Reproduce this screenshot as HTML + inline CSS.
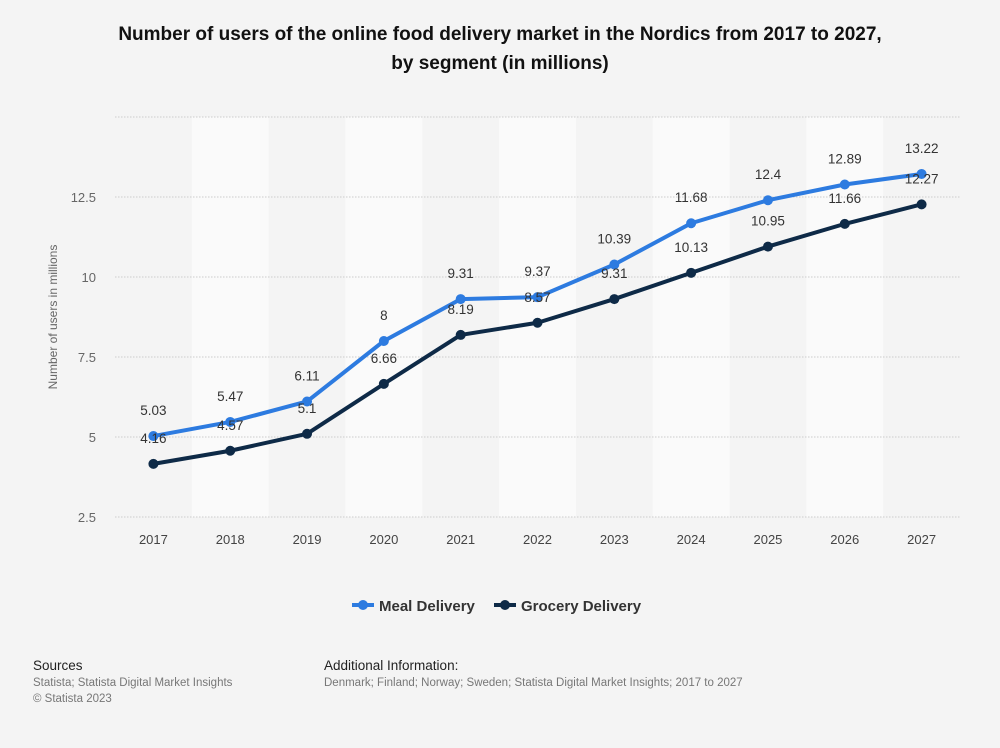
<!DOCTYPE html>
<html><head><meta charset="utf-8"><style>
body{margin:0;background:#f4f4f4;font-family:"Liberation Sans",Arial,sans-serif;}
svg text{font-family:"Liberation Sans",Arial,sans-serif;}
</style></head><body>
<svg width="1000" height="743" xmlns="http://www.w3.org/2000/svg">
<rect width="1000" height="743" fill="#f4f4f4"/>
<text x="500" y="40" text-anchor="middle" font-size="19" font-weight="bold" fill="#111">Number of users of the online food delivery market in the Nordics from 2017 to 2027,</text>
<text x="500" y="69" text-anchor="middle" font-size="19" font-weight="bold" fill="#111">by segment (in millions)</text>
<g id="bands"></g><g id="grid"></g><g id="xt"></g>
<text transform="translate(57,317) rotate(-90)" text-anchor="middle" font-size="12" fill="#666">Number of users in millions</text>
<g id="series"></g>
<g>
<g><line x1="352" y1="605" x2="374" y2="605" stroke="#2d7be0" stroke-width="4"/><circle cx="363" cy="605" r="5" fill="#2d7be0"/><text x="379" y="611" font-size="15" font-weight="bold" fill="#333">Meal Delivery</text></g>
<g><line x1="494" y1="605" x2="516" y2="605" stroke="#0e2a47" stroke-width="4"/><circle cx="505" cy="605" r="5" fill="#0e2a47"/><text x="521" y="611" font-size="15" font-weight="bold" fill="#333">Grocery Delivery</text></g>
</g>
<text x="33" y="670" font-size="13.5" fill="#222">Sources</text>
<text x="33" y="686" font-size="11.5" fill="#777">Statista; Statista Digital Market Insights</text>
<text x="33" y="702" font-size="11.5" fill="#777">© Statista 2023</text>
<text x="324" y="670" font-size="13.5" fill="#222">Additional Information:</text>
<text x="324" y="686" font-size="11.5" fill="#777">Denmark; Finland; Norway; Sweden; Statista Digital Market Insights; 2017 to 2027</text>
</svg>
<script>
const categories=["2017","2018","2019","2020","2021","2022","2023","2024","2025","2026","2027"];
const mealValues=[5.03,5.47,6.11,8,9.31,9.37,10.39,11.68,12.4,12.89,13.22];
const groceryValues=[4.16,4.57,5.1,6.66,8.19,8.57,9.31,10.13,10.95,11.66,12.27];
const yTicks=[2.5,5,7.5,10,12.5,15];
const yTickLabels=["2.5","5","7.5","10","12.5",""];
const NS="http://www.w3.org/2000/svg";
const x0=115,x1=960,step=(x1-x0)/categories.length;
function xs(i){return x0+step*(i+0.5);}
function ys(v){return 517-(v-2.5)*32;}
function mk(tag,attrs,parent,txt){const e=document.createElementNS(NS,tag);for(const k in attrs)e.setAttribute(k,attrs[k]);if(txt!==undefined)e.textContent=txt;document.getElementById(parent).appendChild(e);return e;}
categories.forEach((c,i)=>{
 if(i%2===1){const b=mk('rect',{x:x0+step*i,y:ys(15),width:step,height:ys(2.5)-ys(15),fill:'#fafafa'},'bands');
 
 }
 const t=mk('text',{x:xs(i),y:544,'text-anchor':'middle','font-size':13,fill:'#444'},'xt',c);
 
 
});
yTicks.forEach((v,i)=>{
 const l=mk('line',{x1:x0,x2:x1,y1:ys(v),y2:ys(v),stroke:'#ccc','stroke-dasharray':'1.5,1.5'},'grid');
 
 
 const t=mk('text',{x:96,y:ys(v)+5,'text-anchor':'end','font-size':13,fill:'#666'},'grid',yTickLabels[i]);
 
 
});
function series(vals,color,name){
 const p=mk('polyline',{points:vals.map((v,i)=>xs(i)+','+ys(v)).join(' '),fill:'none',stroke:color,'stroke-width':4,'stroke-linejoin':'round'},'series');
 
 
 vals.forEach((v,i)=>{
  const c=mk('circle',{cx:xs(i),cy:ys(v),r:5,fill:color},'series');
  
  
 });
}
function labels(vals,name){
 vals.forEach((v,i)=>{
  const t=mk('text',{x:xs(i),y:ys(v)-21,'text-anchor':'middle','font-size':13.5,fill:'#333'},'series',String(v));
  
  
 });
}
series(groceryValues,'#0e2a47','grocery');
series(mealValues,'#2d7be0','meal');
labels(mealValues,'meal');
labels(groceryValues,'grocery');
</script>
</body></html>
